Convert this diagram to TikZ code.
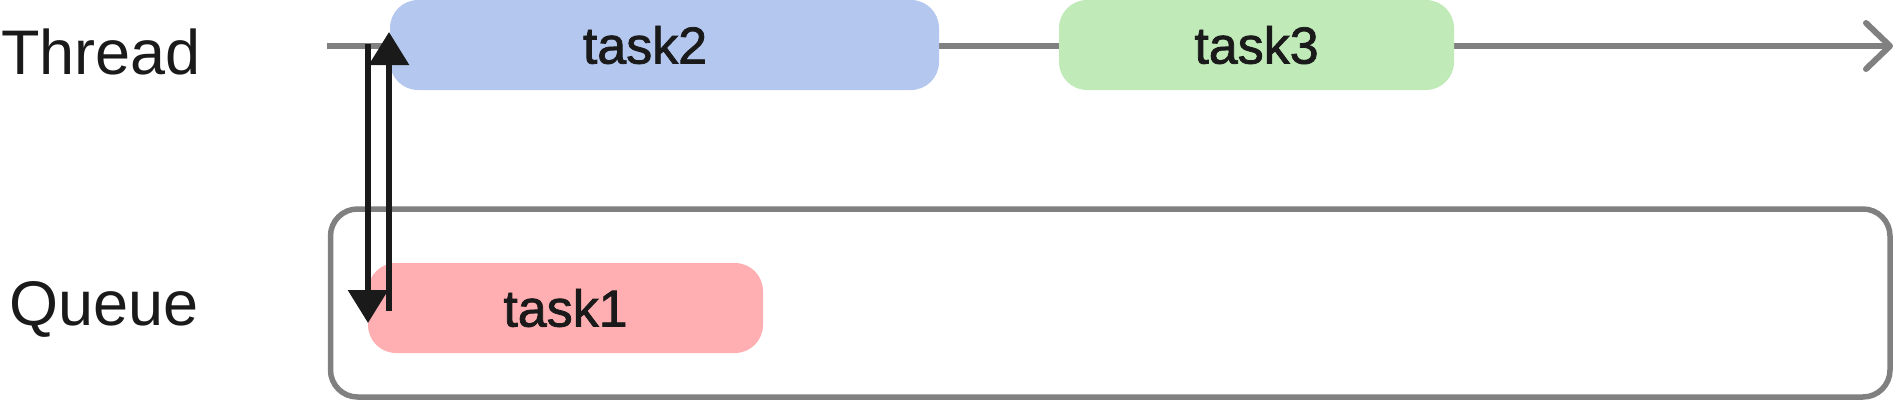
\documentclass[tikz,border=0pt]{standalone}
\usepackage{fontspec}
\setmainfont{Liberation Sans}
\newfontfamily\taskfont[FakeBold=1.5]{Liberation Sans}
\usetikzlibrary{arrows.meta}
\definecolor{inkc}{HTML}{1A1A1A}
\definecolor{grayc}{HTML}{808080}
\definecolor{bluec}{HTML}{B4C7EE}
\definecolor{greenc}{HTML}{C0EAB8}
\definecolor{pinkc}{HTML}{FFAFB2}
\tikzset{
  taskbox/.style={rectangle, rounded corners=28pt, draw=none, minimum height=90pt, inner sep=0pt,
    text=inkc, font=\taskfont\fontsize{52}{60}\selectfont},
  queuebox/.style={rectangle, rounded corners=27pt, draw=grayc, line width=5.5pt, inner sep=0pt},
  lbl/.style={inner sep=0pt, text=inkc, font=\fontsize{63}{70}\selectfont},
  threadline/.style={draw=grayc, line width=6pt, -{Straight Barb[length=24pt,width=46pt,round]}},
  moveline/.style={draw=inkc, line width=6pt, -{Triangle[length=33pt,width=39pt]}}
}
\begin{document}
\begin{tikzpicture}[x=1pt,y=-1pt]
\useasboundingbox (0,0) rectangle (1898,402);
% labels
\node[lbl, anchor=base west] (thread) at (1,74) {Thread};
\node[lbl, anchor=base west] (queuelbl) at (9,325) {Queue};
% queue container
\node[queuebox, minimum width=1559.5pt, minimum height=188pt] (queue) at (1110.25,303) {};
% thread timeline
\coordinate (ts) at (327,46);
\coordinate (te) at (1893,46);
\draw[threadline] (ts) -- (te);
% tasks
\node[taskbox, fill=bluec, minimum width=549pt] (task2) at (664.5,45) {task2\kern39pt};
\node[taskbox, fill=greenc, minimum width=395pt] (task3) at (1256.5,45) {task3};
\node[taskbox, fill=pinkc, minimum width=395pt] (task1) at (565.5,308) {task1};
% moves
\coordinate (dstart) at (368,44);
\coordinate (dend) at (368,323);
\coordinate (ustart) at (389,311);
\coordinate (uend) at (389,32);
\draw[moveline] (dstart) -- (dend);
\draw[moveline] (ustart) -- (uend);
\end{tikzpicture}
\end{document}
